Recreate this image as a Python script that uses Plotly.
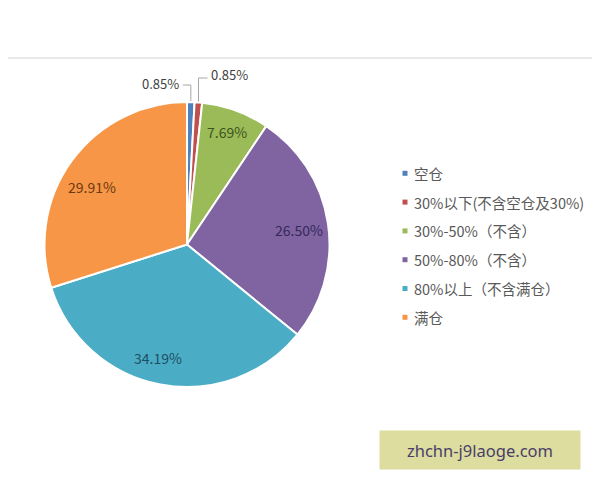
import math
import plotly.graph_objects as go

# ---- data ----
labels = ["空仓", "30%以下(不含空仓及30%)", "30%-50%（不含）", "50%-80%（不含）", "80%以上（不含满仓）", "满仓"]
values = [0.85, 0.85, 7.69, 26.50, 34.19, 29.91]
value_text = ["0.85%", "0.85%", "7.69%", "26.50%", "34.19%", "29.91%"]

# ---- styles ----
colors = ["#4F81BD", "#C0504D", "#9BBB59", "#8064A2", "#4BACC6", "#F79646"]
text_colors = ["#404040", "#404040", "#3d5519", "#35295a", "#1d4f62", "#6b3a10"]
# inside-label placement (fraction of radius, angular nudge in degrees) – style only
label_r = [1.0, 1.0, 0.84, 0.79, 0.82, 0.78]
label_dang = [0, 0, -0.5, 1.0, 3.4, -5.0]

# page body has an 8px margin; figure fills the rest of the 600x480 window
OFF = 8
W, H = 600 - OFF, 480 - OFF
CX, CY, R = 187.0, 244.5, 142.5


def px(x):
    return (x - OFF) / W


def py(y):
    return 1 - (y - OFF) / H


fig = go.Figure()
fig.add_trace(go.Pie(
    labels=labels,
    values=values,
    sort=False,
    direction="clockwise",
    rotation=0,
    marker=dict(colors=colors, line=dict(color="white", width=2)),
    textinfo="none",
    hoverinfo="label+percent",
    showlegend=False,
    domain=dict(x=[px(CX - R), px(CX + R)], y=[py(CY + R), py(CY - R)]),
))

annotations = []
shapes = []
FONT = "Noto Sans CJK SC, Noto Sans, sans-serif"

# data labels placed along each slice's mid angle
total = sum(values)
cum = 0.0
for i, v in enumerate(values):
    mid = (cum + v / 2) / total * 2 * math.pi
    cum += v
    if v / total > 0.03:
        a = mid + math.radians(label_dang[i])
        rr = label_r[i] * R
        annotations.append(dict(
            x=px(CX + rr * math.sin(a)), y=py(CY - rr * math.cos(a)), xref="paper", yref="paper",
            text=value_text[i], showarrow=False,
            font=dict(family=FONT, size=14, color=text_colors[i]),
            xanchor="center", yanchor="middle",
        ))
    else:
        sx, sy = math.sin(mid), -math.cos(mid)
        ax, ay = CX + (R + 1) * sx, CY + (R + 1) * sy
        if i == 0:
            ly = 85
            shapes.append(dict(type="path", xref="paper", yref="paper",
                               path=f"M {px(ax)} {py(ay)} L {px(ax)} {py(ly)} L {px(ax - 8)} {py(ly)}",
                               line=dict(color="#a6a6a6", width=1)))
            annotations.append(dict(x=px(ax - 10), y=py(ly - 2), xref="paper", yref="paper",
                                    text=value_text[i], showarrow=False, xanchor="right", yanchor="middle",
                                    font=dict(family=FONT, size=13, color="#404040")))
        else:
            ly = 78
            shapes.append(dict(type="path", xref="paper", yref="paper",
                               path=f"M {px(ax)} {py(ay)} L {px(ax)} {py(ly)} L {px(ax + 9)} {py(ly)}",
                               line=dict(color="#a6a6a6", width=1)))
            annotations.append(dict(x=px(ax + 11), y=py(ly - 3), xref="paper", yref="paper",
                                    text=value_text[i], showarrow=False, xanchor="left", yanchor="middle",
                                    font=dict(family=FONT, size=13, color="#404040")))

# legend (drawn as annotations to match spacing)
LEG_X, LEG_Y0, LEG_DY = 405, 173.3, 28.8
for i, lab in enumerate(labels):
    y = LEG_Y0 + i * LEG_DY
    shapes.append(dict(type="rect", xref="paper", yref="paper",
                       x0=px(LEG_X - 2.5), x1=px(LEG_X + 2.5), y0=py(y + 2.5), y1=py(y - 2.5),
                       fillcolor=colors[i], line=dict(width=0)))
    annotations.append(dict(x=px(LEG_X + 7), y=py(y), xref="paper", yref="paper",
                            text=lab, showarrow=False, xanchor="left", yanchor="middle",
                            font=dict(family="Noto Sans CJK SC, sans-serif", size=14.5, color="#595959")))

# top separator line
shapes.append(dict(type="line", xref="paper", yref="paper", x0=px(0), x1=px(600), y0=py(58), y1=py(58),
                   line=dict(color="#e2e2e2", width=1.5)))

# watermark box
annotations.append(dict(x=px(480), y=py(450), xref="paper", yref="paper",
                        text="zhchn-j9laoge.com", showarrow=False,
                        width=200, height=38, bgcolor="#dcdd9f", borderpad=0,
                        font=dict(family="Noto Sans, DejaVu Sans, sans-serif", size=16.5, color="#4a3d6a"),
                        xanchor="center", yanchor="middle"))

fig.update_layout(
    width=W, height=H,
    margin=dict(l=0, r=0, t=0, b=0),
    paper_bgcolor="white", plot_bgcolor="white",
    annotations=annotations, shapes=shapes,
    showlegend=False,
)

fig.write_html("out.html")
